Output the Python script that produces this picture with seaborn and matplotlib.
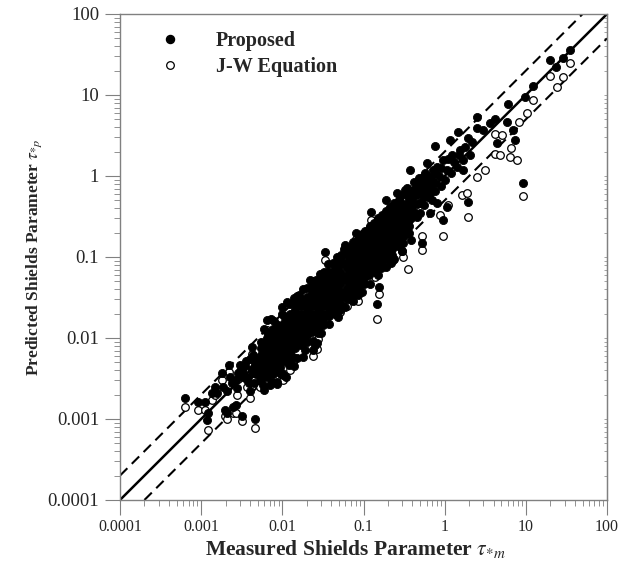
import numpy as np
import pandas as pd
import seaborn as sns
import matplotlib.pyplot as plt
import matplotlib.ticker as mticker
from matplotlib.lines import Line2D

#%% Data (measured, predicted)
# dense core of the cloud: one x per column, y values stacked in that column
core_x = [0.0055, 0.0065, 0.0076, 0.0089, 0.0105, 0.0123, 0.0145, 0.017, 0.020,
          0.0235, 0.0275, 0.032, 0.038, 0.045, 0.052, 0.062, 0.072, 0.085, 0.10,
          0.117, 0.138, 0.162, 0.19, 0.225, 0.265, 0.31, 0.36]
core_y = [
    [0.0030, 0.0036, 0.0043, 0.0052, 0.0062, 0.0075, 0.0090],
    [0.0033, 0.0040, 0.0047, 0.0057, 0.0068, 0.0082, 0.0099, 0.0119],
    [0.0036, 0.0043, 0.0052, 0.0062, 0.0075, 0.0090, 0.0108, 0.013],
    [0.0040, 0.0047, 0.0057, 0.0068, 0.0082, 0.0099, 0.0119, 0.0143],
    [0.0052, 0.0062, 0.0075, 0.0090, 0.0108, 0.013, 0.0155, 0.0185],
    [0.0057, 0.0068, 0.0082, 0.0099, 0.0119, 0.0143, 0.0170, 0.020],
    [0.0075, 0.0090, 0.0108, 0.013, 0.0155, 0.0185, 0.022, 0.027],
    [0.0082, 0.0099, 0.0119, 0.0143, 0.0170, 0.020, 0.025, 0.030],
    [0.0090, 0.0108, 0.013, 0.0155, 0.0185, 0.022, 0.027, 0.032],
    [0.0119, 0.0143, 0.0170, 0.020, 0.025, 0.030, 0.035, 0.042],
    [0.013, 0.0155, 0.0185, 0.022, 0.027, 0.032, 0.038, 0.046],
    [0.0143, 0.017, 0.020, 0.025, 0.030, 0.035, 0.042, 0.050, 0.060],
    [0.0185, 0.022, 0.027, 0.032, 0.038, 0.046, 0.055, 0.066],
    [0.020, 0.025, 0.030, 0.035, 0.042, 0.050, 0.060, 0.073],
    [0.027, 0.032, 0.038, 0.046, 0.055, 0.066, 0.080, 0.095],
    [0.030, 0.035, 0.042, 0.050, 0.060, 0.073, 0.087, 0.105],
    [0.032, 0.038, 0.046, 0.055, 0.066, 0.080, 0.095, 0.115, 0.135],
    [0.042, 0.050, 0.060, 0.073, 0.087, 0.105, 0.126, 0.150],
    [0.046, 0.055, 0.066, 0.080, 0.095, 0.115, 0.135, 0.165],
    [0.060, 0.073, 0.087, 0.105, 0.126, 0.150, 0.18, 0.22],
    [0.066, 0.080, 0.095, 0.115, 0.135, 0.165, 0.20, 0.24],
    [0.073, 0.087, 0.105, 0.126, 0.150, 0.18, 0.22, 0.26],
    [0.095, 0.115, 0.135, 0.165, 0.20, 0.24, 0.29, 0.34],
    [0.105, 0.126, 0.150, 0.18, 0.22, 0.26, 0.31, 0.37],
    [0.135, 0.165, 0.20, 0.24, 0.29, 0.34, 0.41],
    [0.150, 0.18, 0.22, 0.26, 0.31, 0.37, 0.45],
    [0.20, 0.24, 0.29, 0.34, 0.41, 0.50, 0.60],
]

# rims of the core (lower and upper)
core_fringe = [(0.006, 0.0023), (0.0075, 0.0029), (0.0095, 0.0036), (0.012, 0.0046),
               (0.015, 0.0056), (0.019, 0.0072), (0.024, 0.0092), (0.030, 0.0115),
               (0.038, 0.015), (0.048, 0.018), (0.060, 0.024), (0.075, 0.029),
               (0.095, 0.037), (0.12, 0.047), (0.15, 0.060), (0.19, 0.076),
               (0.24, 0.095), (0.30, 0.12), (0.38, 0.16),
               (0.0085, 0.0027), (0.011, 0.0033), (0.014, 0.0045), (0.018, 0.0058),
               (0.025, 0.0082),
               (0.006, 0.013), (0.0078, 0.016), (0.0098, 0.020), (0.0125, 0.026),
               (0.016, 0.034), (0.020, 0.042), (0.026, 0.052), (0.033, 0.066),
               (0.042, 0.085), (0.053, 0.105), (0.066, 0.13), (0.085, 0.165),
               (0.105, 0.21), (0.135, 0.26), (0.17, 0.33), (0.21, 0.42), (0.27, 0.50),
               (0.0072, 0.017), (0.0115, 0.028), (0.014, 0.031), (0.018, 0.040),
               (0.023, 0.050), (0.029, 0.062), (0.037, 0.082), (0.047, 0.10),
               (0.058, 0.125), (0.075, 0.155), (0.095, 0.19), (0.12, 0.24),
               (0.15, 0.30), (0.19, 0.37), (0.24, 0.46), (0.30, 0.58), (0.34, 0.72)]

# scattered "Proposed" points outside the core
prop_low = [(0.00063, 0.0018), (0.00091, 0.0016), (0.00111, 0.0016), (0.00118, 0.00097),
            (0.0012, 0.0012), (0.00136, 0.0021), (0.00147, 0.0025), (0.00157, 0.0021),
            (0.0018, 0.0037), (0.00185, 0.0025), (0.00196, 0.0013), (0.00208, 0.0012),
            (0.00208, 0.0022), (0.0022, 0.0046), (0.00226, 0.0033), (0.00247, 0.0014),
            (0.00268, 0.0015), (0.00276, 0.0024), (0.00284, 0.0037), (0.0030, 0.0046),
            (0.00318, 0.0011), (0.00318, 0.0040), (0.00327, 0.0033), (0.00366, 0.0030),
            (0.0040, 0.0022), (0.00423, 0.0077), (0.00435, 0.0037), (0.0046, 0.0010),
            (0.0050, 0.0054), (0.0053, 0.0030), (0.0061, 0.0044), (0.00646, 0.0167),
            (0.0070, 0.0026), (0.0077, 0.0040), (0.0086, 0.0029), (0.0093, 0.0044),
            (0.0099, 0.0037), (0.0102, 0.0035), (0.0114, 0.0062), (0.0124, 0.0049),
            (0.0135, 0.0058), (0.0238, 0.0071), (0.0267, 0.0087), (0.0040, 0.0055),
            (0.0035, 0.0045), (0.0027, 0.0030), (0.0045, 0.0028), (0.0024, 0.0028),
            (0.0033, 0.0036), (0.0038, 0.0033), (0.0042, 0.0042), (0.0046, 0.0048),
            (0.0048, 0.0036), (0.0052, 0.0040), (0.0039, 0.0028), (0.0044, 0.0062),
            (0.0036, 0.0052), (0.0057, 0.0026)]
prop_edge = [(0.010, 0.024), (0.015, 0.033), (0.0219, 0.052), (0.0335, 0.115),
             (0.060, 0.14), (0.0806, 0.198), (0.123, 0.36), (0.19, 0.50), (0.26, 0.62),
             (0.0274, 0.0115), (0.0512, 0.022), (0.0853, 0.034), (0.155, 0.043),
             (0.148, 0.026), (0.22, 0.085), (0.30, 0.12)]
prop_high = [(0.281, 0.31), (0.342, 0.41), (0.372, 1.19), (0.405, 0.67), (0.455, 0.31),
             (0.495, 0.46), (0.525, 0.82), (0.525, 0.149), (0.604, 1.45), (0.658, 0.35),
             (0.658, 0.62), (0.716, 1.19), (0.757, 2.35), (0.757, 0.82), (0.80, 0.46),
             (0.95, 0.29), (0.95, 1.58), (1.06, 0.41), (1.06, 1.19), (1.16, 2.78),
             (1.23, 1.82), (1.41, 1.29), (1.45, 3.49), (1.54, 2.09), (1.68, 1.58),
             (1.93, 0.48), (1.93, 2.94), (2.04, 1.82), (2.49, 3.91), (2.49, 5.35),
             (2.95, 3.70), (3.6, 4.51), (4.15, 5.06), (4.4, 2.55), (5.83, 4.64),
             (6.0, 7.75), (6.9, 3.70), (7.3, 2.78), (9.2, 0.82), (9.7, 9.45),
             (12.2, 12.9), (19.8, 27.0), (23.4, 22.2), (28.6, 28.6), (34.8, 36.0),
             (0.40, 0.52), (0.45, 0.58), (0.55, 0.55), (0.60, 0.80), (0.48, 0.95),
             (0.42, 0.85), (0.38, 0.40), (0.62, 1.0), (0.85, 1.0), (0.70, 0.50),
             (0.90, 0.75), (0.36, 0.55), (0.32, 0.68), (0.44, 0.72),
             (0.50, 0.35), (0.55, 0.68), (0.65, 0.75), (0.75, 0.65), (0.80, 1.3),
             (1.0, 0.9), (1.2, 1.1), (1.3, 1.5), (1.1, 1.6), (0.9, 1.25), (1.5, 1.8),
             (1.8, 2.3), (2.2, 2.6), (1.7, 1.2), (0.70, 0.90), (0.58, 1.1), (0.47, 0.78),
             (0.33, 0.26), (0.38, 0.30), (0.42, 0.36), (0.39, 0.48), (0.35, 0.36),
             (0.45, 0.45), (0.52, 0.62), (0.60, 0.65), (0.68, 0.85), (0.56, 0.44),
             (0.62, 0.55), (0.75, 1.1), (0.42, 0.62), (0.50, 0.72), (0.55, 0.95)]

# visible "J-W Equation" points
jw_low = [(0.00063, 0.0014), (0.00091, 0.0013), (0.00111, 0.0013), (0.0012, 0.00073),
          (0.00136, 0.0017), (0.00147, 0.0020), (0.0018, 0.0030), (0.00196, 0.0011),
          (0.00208, 0.0010), (0.0022, 0.0038), (0.00247, 0.0012), (0.00268, 0.0012),
          (0.00276, 0.0020), (0.00318, 0.00095), (0.00366, 0.0025), (0.0040, 0.0018),
          (0.0046, 0.00078), (0.0053, 0.0025), (0.0061, 0.0036), (0.00646, 0.0126),
          (0.00423, 0.0063), (0.0102, 0.0030), (0.0124, 0.0040), (0.0135, 0.0050),
          (0.0238, 0.0060), (0.0267, 0.0074), (0.0093, 0.0037), (0.0030, 0.0039),
          (0.00284, 0.0031), (0.0050, 0.0045)]
jw_edge = [(0.0219, 0.042), (0.0335, 0.092), (0.0806, 0.165), (0.123, 0.29),
           (0.0274, 0.0098), (0.0512, 0.021), (0.0625, 0.0245), (0.0853, 0.029),
           (0.138, 0.057), (0.148, 0.0172), (0.155, 0.035), (0.194, 0.12), (0.23, 0.092),
           (0.305, 0.10), (0.352, 0.071), (0.525, 0.122), (0.525, 0.18), (0.95, 0.18)]
jw_high = [(0.87, 0.33), (1.09, 0.44), (1.63, 0.58), (1.88, 0.62), (1.93, 0.31),
           (2.49, 0.97), (3.13, 1.19), (4.15, 1.86), (4.15, 3.3), (4.79, 1.82),
           (5.06, 3.2), (6.4, 1.72), (6.5, 2.22), (7.7, 1.58), (8.2, 4.64), (9.2, 0.57),
           (10.3, 6.0), (12.2, 8.67), (19.8, 17.2), (24.0, 12.6), (28.6, 16.7), (34.8, 24.8)]

axis_ticks = [0.0001, 0.001, 0.01, 0.1, 1, 10, 100]
tick_labels = ["0.0001", "0.001", "0.01", "0.1", "1", "10", "100"]

#%% Building tables
rows = [(x, y) for x, col in zip(core_x, core_y) for y in col]
rows += core_fringe + prop_low + prop_edge + prop_high
proposed = pd.DataFrame(rows, columns=["measured", "predicted"])
jw = pd.DataFrame(jw_low + jw_edge + jw_high, columns=["measured", "predicted"])

#%% Theming and fonts
sns.set_style("ticks")
plt.rcParams['font.family'] = ['Liberation Serif', 'DejaVu Serif']
plt.rcParams['mathtext.fontset'] = 'stix'
grey = '#808080'

fig = plt.figure(figsize=(6.21, 5.69), dpi=100)
ax = fig.add_axes([0.1932, 0.1213, 0.7843, 0.8541])

# 1:1 line and factor-of-two band
lo, hi = axis_ticks[0], axis_ticks[-1]
ax.plot([lo, hi], [lo, hi], color='black', lw=1.8, zorder=2)
ax.plot([lo, hi / 2], [2 * lo, hi], color='black', lw=1.5, ls=(0, (5, 3)), zorder=2)
ax.plot([2 * lo, hi], [lo, hi / 2], color='black', lw=1.5, ls=(0, (5, 3)), zorder=2)

# open circles first, filled ones on top
sns.scatterplot(data=jw, x="measured", y="predicted", marker='o', s=30,
                facecolor='white', edgecolor='black', linewidth=0.9, ax=ax, zorder=3)
sns.scatterplot(data=proposed, x="measured", y="predicted", marker='o', s=34,
                color='black', edgecolor='black', linewidth=0.6, ax=ax, zorder=4)

ax.set_xscale('log')
ax.set_yscale('log')
ax.set_xlim(lo, hi)
ax.set_ylim(lo, hi)

for axis in (ax.xaxis, ax.yaxis):
    axis.set_major_locator(mticker.FixedLocator(axis_ticks))
    axis.set_major_formatter(mticker.FixedFormatter(tick_labels))
    axis.set_minor_locator(mticker.LogLocator(base=10, subs=np.arange(2, 10), numticks=20))
    axis.set_minor_formatter(mticker.NullFormatter())

ax.tick_params(which='major', direction='out', length=11, width=0.8, color=grey, pad=4)
ax.tick_params(which='minor', direction='out', length=4.5, width=0.6, color=grey)
ax.tick_params(axis='x', labelsize=11.5, pad=3)
ax.tick_params(axis='y', labelsize=13.5)
for sp in ax.spines.values():
    sp.set_color(grey)
    sp.set_linewidth(1.0)

# little inward ticks on the right edge
sec = ax.secondary_yaxis('right', functions=(lambda v: v, lambda v: v))
sec.set_yticks(axis_ticks)
sec.yaxis.set_minor_locator(mticker.LogLocator(base=10, subs=np.arange(2, 10), numticks=20))
sec.tick_params(which='both', direction='in', length=2.5, width=0.5, color=grey,
                labelright=False)
sec.spines['right'].set_color(grey)

ax.set_xlabel(r'Measured Shields Parameter $\tau_{*m}$', fontsize=15.5, fontweight='bold')
ax.xaxis.set_label_coords(0.4825, -0.078)
ax.set_ylabel(r'Predicted Shields Parameter $\tau_{*p}$', fontsize=12.5, fontweight='bold')
ax.yaxis.set_label_coords(-0.157, 0.5)

handles = [Line2D([], [], ls='', marker='o', markersize=5.8, color='black'),
           Line2D([], [], ls='', marker='o', markersize=5.5, markerfacecolor='white',
                  markeredgecolor='black', markeredgewidth=0.9)]
ax.legend(handles, ['Proposed', 'J-W Equation'], loc='upper left',
          bbox_to_anchor=(0.083, 0.965), frameon=False, handlelength=1.0,
          handletextpad=1.75, labelspacing=0.3, borderpad=0, borderaxespad=0,
          prop={'family': 'Liberation Serif', 'weight': 'bold', 'size': 14.5})

plt.savefig('out.png', dpi=100)
